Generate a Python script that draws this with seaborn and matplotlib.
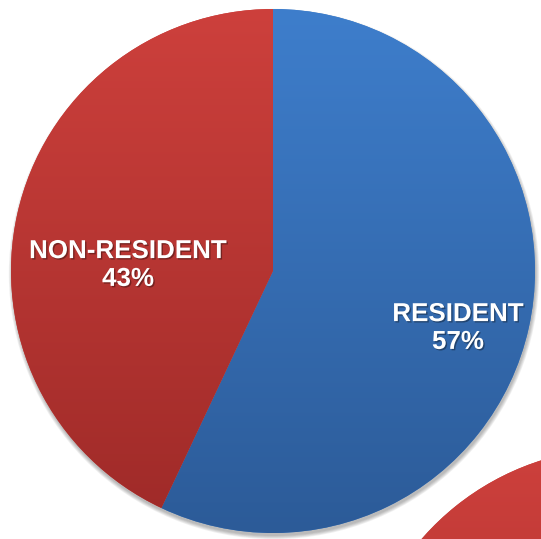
import numpy as np
import matplotlib
matplotlib.use("Agg")
import matplotlib.pyplot as plt
import matplotlib.patheffects as pe
from matplotlib.colors import LinearSegmentedColormap
from matplotlib.patches import Circle
import seaborn as sns

# data
categories = ["RESIDENT", "NON-RESIDENT"]
shares = [57, 43]
pct_labels = ["57%", "43%"]

sns.set_theme(style="white")
plt.rcParams["font.family"] = ["Liberation Sans", "DejaVu Sans"]

W, H = 541, 539
fig = plt.figure(figsize=(W / 100, H / 100), dpi=100)
ax = fig.add_axes([0, 0, 1, 1])

# (top colour, bottom colour) for the soft vertical gradient
palette = {"RESIDENT": ("#3E7ECC", "#2C5B98"),
           "NON-RESIDENT": ("#CD403C", "#9E2A28")}


def draw_pie(center, radius):
    cx, cy = center
    # faint drop shadow
    for k in range(5):
        ax.add_patch(Circle((cx + 1, cy - 3), radius + k * 0.8, color="black",
                            alpha=0.06, lw=0, zorder=0.5))
    wedges, _ = ax.pie(shares, colors=[palette[c][0] for c in categories],
                       startangle=90, counterclock=False, center=center,
                       radius=radius, frame=True, wedgeprops=dict(linewidth=0))
    grad = np.linspace(0, 1, 256).reshape(-1, 1)
    for w, c in zip(wedges, categories):
        cmap = LinearSegmentedColormap.from_list(c, [palette[c][1], palette[c][0]])
        im = ax.imshow(grad, cmap=cmap, origin="lower", aspect="auto", zorder=2,
                       extent=[cx - radius, cx + radius, cy - radius, cy + radius])
        im.set_clip_path(w)
    return wedges


# main pie, plus the edge of a neighbouring pie peeking in at bottom right
draw_pie((273, H - 271), 262)
draw_pie((621, H - 712), 264)

# label positions in pixels from top-left
label_pos = {"RESIDENT": (458, 328), "NON-RESIDENT": (128, 265)}
for c, p in zip(categories, pct_labels):
    x, y = label_pos[c]
    ax.text(x, H - y, f"{c}\n{p}", ha="center", va="center", color="white",
            fontsize=18.7, fontweight="bold", linespacing=1.2, zorder=5,
            path_effects=[pe.withSimplePatchShadow(offset=(1, -1), shadow_rgbFace="black", alpha=0.35)])

ax.set_xlim(0, W)
ax.set_ylim(0, H)
ax.axis("off")

fig.savefig("out.png", dpi=100)
